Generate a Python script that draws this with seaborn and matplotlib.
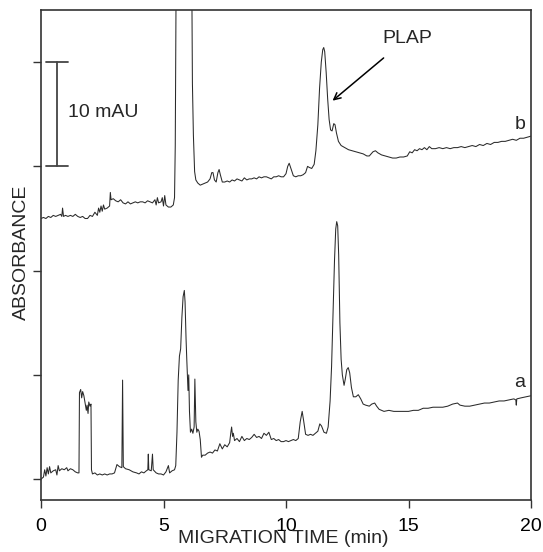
import numpy as np
import pandas as pd
import matplotlib
matplotlib.use("Agg")
import matplotlib.pyplot as plt
import seaborn as sns

# ---- data (migration time in min, absorbance in mAU, trace b offset) ----
time_a = [0.00, 0.10, 0.15, 0.20, 0.25, 0.30, 0.35, 0.40, 0.50, 0.60, 0.65, 0.70, 0.75, 0.85, 0.95,
          1.05, 1.10, 1.20, 1.30, 1.40, 1.50, 1.55, 1.57, 1.62, 1.66, 1.70, 1.75, 1.80, 1.85, 1.88,
          1.92, 1.95, 2.00, 2.04, 2.06, 2.10, 2.20, 2.30, 2.40, 2.50, 2.60, 2.70, 2.80, 2.90, 3.00,
          3.05, 3.10, 3.20, 3.30, 3.33, 3.36, 3.45, 3.60, 3.75, 3.90, 4.00, 4.10, 4.20, 4.30, 4.36,
          4.38, 4.40, 4.50, 4.55, 4.58, 4.70, 4.80, 4.90, 5.00, 5.10, 5.20, 5.25, 5.35, 5.45, 5.50,
          5.55, 5.60, 5.65, 5.70, 5.75, 5.80, 5.85, 5.88, 5.92, 5.95, 6.00, 6.03, 6.06, 6.10, 6.15,
          6.20, 6.25, 6.28, 6.32, 6.36, 6.40, 6.45, 6.50, 6.55, 6.60, 6.70, 6.80, 6.90, 7.00, 7.10,
          7.20, 7.30, 7.40, 7.50, 7.60, 7.70, 7.75, 7.78, 7.82, 7.85, 7.90, 8.00, 8.10, 8.20, 8.30,
          8.40, 8.50, 8.60, 8.70, 8.80, 8.90, 9.00, 9.10, 9.20, 9.30, 9.40, 9.50, 9.60, 9.70, 9.80,
          9.90, 10.00, 10.10, 10.20, 10.30, 10.40, 10.50, 10.58, 10.66, 10.72, 10.80, 10.90, 11.00,
          11.10, 11.20, 11.30, 11.38, 11.45, 11.55, 11.65, 11.72, 11.80, 11.86, 11.92, 11.98, 12.03,
          12.07, 12.11, 12.15, 12.20, 12.25, 12.30, 12.37, 12.42, 12.48, 12.54, 12.60, 12.67, 12.75,
          12.85, 12.95, 13.05, 13.15, 13.25, 13.40, 13.50, 13.62, 13.70, 13.80, 13.90, 14.00, 14.20,
          14.40, 14.60, 14.80, 15.00, 15.20, 15.40, 15.60, 15.80, 16.00, 16.20, 16.40, 16.60, 16.80,
          17.00, 17.10, 17.30, 17.50, 17.70, 17.90, 18.10, 18.30, 18.50, 18.70, 18.90, 19.10, 19.30,
          19.38, 19.40, 19.42, 19.60, 19.80, 20.00]
abs_a = [0.0, 0.2, 0.9, 0.3, 1.1, 0.5, 1.2, 0.6, 0.8, 0.9, 0.4, 1.3, 0.8, 1.0, 0.9,
         1.1, 0.8, 1.0, 0.9, 0.7, 0.6, 0.6, 8.3, 8.6, 7.8, 8.4, 8.0, 7.3, 6.6, 7.1,
         6.3, 7.4, 7.0, 7.2, 0.9, 0.5, 0.6, 0.4, 0.5, 0.4, 0.5, 0.4, 0.5, 0.5, 0.6,
         1.0, 1.4, 1.2, 1.1, 9.5, 1.2, 1.0, 0.9, 0.7, 0.6, 0.5, 0.7, 0.6, 0.8, 0.9,
         2.4, 0.9, 0.8, 2.4, 0.9, 0.6, 0.5, 0.5, 0.4, 0.7, 1.3, 0.6, 0.8, 0.9, 1.3,
         4.5, 9.5, 11.8, 12.5, 15.5, 17.5, 18.1, 17.0, 13.5, 11.5, 8.5, 10.0, 6.5, 4.5, 4.8,
         4.4, 5.0, 9.6, 5.5, 4.5, 4.8, 4.6, 3.8, 2.1, 2.3, 2.3, 2.5, 2.6, 2.5, 2.8,
         2.7, 3.4, 2.9, 3.3, 3.1, 3.5, 4.5, 5.0, 4.1, 4.4, 3.7, 3.9, 3.6, 4.1, 3.7,
         3.9, 3.8, 4.0, 4.3, 4.0, 4.1, 3.9, 4.4, 4.2, 4.5, 3.8, 3.9, 3.7, 3.8, 3.6,
         3.6, 3.7, 3.6, 3.7, 3.8, 3.7, 3.9, 5.5, 6.5, 5.6, 4.3, 4.2, 4.3,
         4.2, 4.4, 4.6, 5.3, 5.1, 4.5, 4.4, 5.0, 7.5, 10.8, 16.0, 21.0, 24.0,
         24.7, 24.3, 21.5, 15.0, 11.5, 10.0, 9.0, 9.6, 10.5, 10.7, 10.2, 8.8, 7.9,
         7.9, 8.1, 7.7, 7.2, 7.1, 7.0, 7.2, 7.3, 7.0, 6.7, 6.6, 6.5, 6.6,
         6.5, 6.5, 6.5, 6.5, 6.6, 6.6, 6.8, 6.8, 6.9, 6.9, 6.9, 7.0, 7.2,
         7.3, 7.1, 7.0, 7.0, 7.1, 7.2, 7.3, 7.3, 7.4, 7.5, 7.5, 7.6, 7.7,
         7.6, 7.1, 7.7, 7.8, 7.9, 8.0]

time_b = [0.00, 0.10, 0.20, 0.30, 0.40, 0.50, 0.60, 0.70, 0.80, 0.85, 0.88, 0.92, 1.00, 1.10, 1.20,
          1.30, 1.40, 1.50, 1.60, 1.70, 1.80, 1.90, 2.00, 2.10, 2.20, 2.30, 2.35, 2.40, 2.45, 2.50,
          2.55, 2.60, 2.70, 2.80, 2.83, 2.86, 2.95, 3.05, 3.15, 3.25, 3.35, 3.45, 3.55, 3.65, 3.75,
          3.85, 3.95, 4.05, 4.15, 4.25, 4.35, 4.45, 4.55, 4.65, 4.70, 4.75, 4.80, 4.90, 4.95, 5.00,
          5.05, 5.10, 5.20, 5.30, 5.40, 5.45, 5.48, 5.52, 6.15, 6.18, 6.22, 6.27, 6.32, 6.40, 6.50,
          6.60, 6.70, 6.80, 6.90, 6.97, 7.02, 7.08, 7.15, 7.22, 7.27, 7.32, 7.40, 7.50, 7.60, 7.70,
          7.80, 7.90, 8.00, 8.10, 8.20, 8.30, 8.40, 8.50, 8.60, 8.70, 8.80, 8.90, 9.00, 9.10, 9.20,
          9.30, 9.40, 9.50, 9.60, 9.70, 9.80, 9.90, 10.00, 10.07, 10.13, 10.20, 10.30, 10.40, 10.50,
          10.60, 10.70, 10.80, 10.88, 10.95, 11.05, 11.15, 11.22, 11.30, 11.37, 11.44, 11.50, 11.54,
          11.58, 11.64, 11.70, 11.76, 11.82, 11.88, 11.95, 12.00, 12.06, 12.14, 12.25, 12.40, 12.55,
          12.70, 12.85, 13.00, 13.15, 13.30, 13.40, 13.55, 13.65, 13.75, 13.90, 14.05, 14.20, 14.35,
          14.50, 14.65, 14.80, 14.95, 15.05, 15.15, 15.25, 15.35, 15.45, 15.55, 15.65, 15.75, 15.85,
          15.95, 16.10, 16.25, 16.40, 16.55, 16.70, 16.85, 17.00, 17.15, 17.30, 17.45, 17.60, 17.75,
          17.90, 18.05, 18.20, 18.35, 18.50, 18.65, 18.80, 18.95, 19.10, 19.25, 19.40, 19.55, 19.70,
          19.85, 20.00]
abs_b = [25.0, 25.1, 25.0, 25.2, 25.1, 25.3, 25.2, 25.3, 25.4, 25.2, 26.0, 25.2, 25.3, 25.2, 25.3,
         25.2, 25.4, 25.2, 25.1, 25.2, 25.0, 25.0, 25.3, 25.2, 25.6, 25.3, 26.0, 25.6, 26.2, 25.7,
         26.3, 25.9, 26.0, 26.2, 27.5, 26.8, 26.9, 26.7, 26.6, 26.8, 26.5, 26.4, 26.6, 26.4, 26.5,
         26.6, 26.5, 26.6, 26.6, 26.5, 26.7, 26.6, 26.5, 26.8, 26.3, 27.0, 26.5, 26.6, 27.0, 26.2,
         27.2, 26.3, 26.1, 26.1, 26.3, 27.0, 32.0, 50.0, 50.0, 38.0, 33.0, 29.5, 28.7, 28.4, 28.2,
         28.3, 28.4, 28.5, 28.8, 29.4, 29.4, 28.7, 28.5, 29.4, 29.7, 29.2, 28.5, 28.5, 28.6, 28.5,
         28.7, 28.6, 28.8, 28.7, 28.6, 28.9, 28.7, 28.8, 28.8, 28.9, 28.8, 29.0, 28.9, 29.0, 29.0,
         28.9, 28.8, 29.0, 29.0, 29.1, 29.0, 29.0, 29.3, 30.0, 30.3, 29.8, 29.1, 29.0, 29.1,
         29.1, 29.2, 29.4, 30.0, 29.9, 29.8, 30.2, 31.5, 34.0, 37.5, 40.0, 41.2, 41.4,
         41.0, 39.0, 36.5, 34.5, 33.5, 33.4, 34.1, 34.0, 33.2, 32.4, 32.0, 31.8, 31.6,
         31.5, 31.4, 31.3, 31.2, 31.0, 31.0, 31.4, 31.5, 31.3, 31.1, 31.0, 30.9, 30.8,
         30.8, 30.9, 30.9, 31.0, 31.4, 31.3, 31.6, 31.5, 31.7, 31.6, 31.8, 31.6, 31.9,
         31.7, 31.7, 31.8, 31.7, 31.8, 31.7, 31.8, 31.8, 31.9, 31.8, 31.9, 32.0, 31.9,
         32.1, 32.0, 32.2, 32.1, 32.3, 32.3, 32.4, 32.4, 32.5, 32.6, 32.5, 32.7, 32.7,
         32.8, 32.9]

x_ticks = [0, 5, 10, 15, 20]
x_tick_labels = ["0", "5", "10", "15", "20"]
y_ticks = [0, 10, 20, 30, 40]
trace_labels = ["a", "b"]

# ---- plot ----
sns.set_style("ticks")
plt.rcParams["font.family"] = ["Liberation Sans", "DejaVu Sans"]
FS = 14

fig = plt.figure(figsize=(5.43, 5.52), dpi=100)
ax = fig.add_axes([41 / 543, 52 / 552, 490 / 543, 490 / 552])

df_a = pd.DataFrame({"t": time_a, "A": abs_a})
df_b = pd.DataFrame({"t": time_b, "A": abs_b})
sns.lineplot(data=df_a, x="t", y="A", ax=ax, sort=False, estimator=None,
             color="#2a2a2a", linewidth=0.75)
sns.lineplot(data=df_b, x="t", y="A", ax=ax, sort=False, estimator=None,
             color="#2a2a2a", linewidth=0.75)

ax.set_xlim(0, 20)
ax.set_ylim(-2, 45)
ax.set_xticks(x_ticks)
ax.set_xticklabels(x_tick_labels)
ax.set_yticks(y_ticks)
ax.set_yticklabels([])
ax.tick_params(direction="out", length=6, width=1.0, labelsize=FS, colors="#333333",
               labelcolor="black", pad=7)
for s in ax.spines.values():
    s.set_visible(True)
    s.set_linewidth(1.2)
    s.set_color("#333333")

ax.set_xlabel("MIGRATION TIME (min)", fontsize=FS, va="center")
ax.xaxis.set_label_coords(0.495, -38.5 / 490)
ax.set_ylabel("ABSORBANCE", fontsize=FS, va="center", ha="center")
ax.yaxis.set_label_coords(-20 / 490, 0.506)

# scale bar (10 mAU)
ax.plot([0.64, 0.64], [30, 40], color="#444444", lw=1.3)
ax.plot([0.2, 1.09], [40, 40], color="#444444", lw=1.3)
ax.plot([0.2, 1.09], [30, 30], color="#444444", lw=1.3)
ax.text(1.1, 35.2, "10 mAU", fontsize=FS, va="center", ha="left")

# trace labels
ax.text(19.55, 9.3, trace_labels[0], fontsize=FS, ha="center", va="center")
ax.text(19.55, 34.0, trace_labels[1], fontsize=FS, ha="center", va="center")

# PLAP annotation
ax.annotate("PLAP", xy=(11.9, 36.3), xytext=(14.95, 42.3), fontsize=FS,
            ha="center", va="center",
            arrowprops=dict(arrowstyle="->", color="black", lw=1.1,
                            shrinkA=9, shrinkB=0, mutation_scale=12))

fig.savefig("out.png", dpi=100)
